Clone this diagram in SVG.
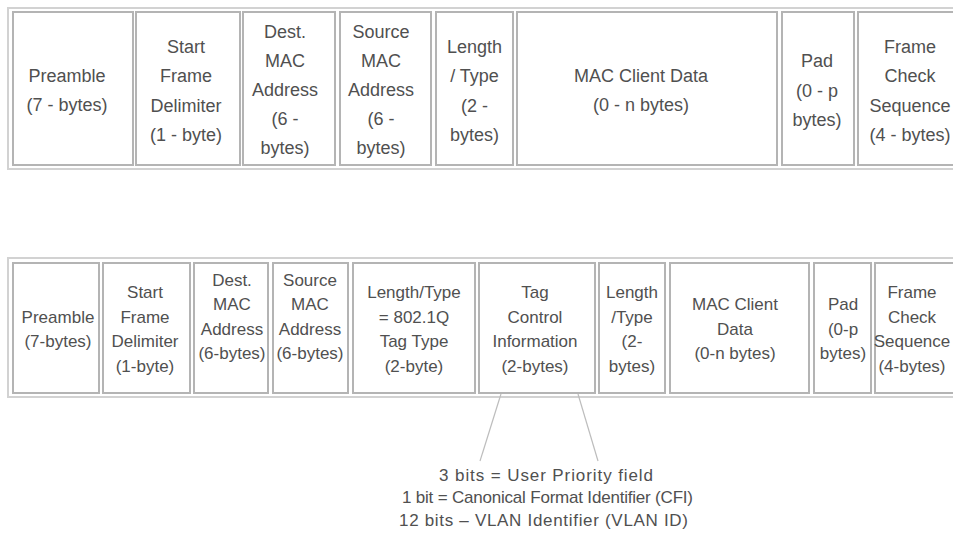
<svg xmlns="http://www.w3.org/2000/svg" width="953" height="543" viewBox="0 0 953 543">
<style>
.frame{fill:#fff;stroke:#d2d2d2;stroke-width:2}
.box{fill:#fff;stroke:#b4b4b4;stroke-width:2}
.t1{font-family:"Liberation Sans",Arial,sans-serif;font-size:18px;fill:#505050;text-anchor:middle}
.t2{font-family:"Liberation Sans",Arial,sans-serif;font-size:17px;fill:#505050;text-anchor:middle}
.conn{stroke:#bdbdbd;stroke-width:1.2;fill:none}
</style>
<rect width="953" height="543" fill="#fff"/>
<g id="frame-untagged">
<rect class="frame" x="8" y="8" width="960" height="161"/>
</g>
<g id="frame-tagged">
<rect class="frame" x="8" y="258" width="960" height="139"/>
</g>
<!-- Row 1 -->
<g id="r1-preamble"><rect class="box" x="13" y="12" width="120" height="153"/>
<text class="t1"><tspan x="67" y="81.5">Preamble</tspan><tspan x="67" y="111">(7 - bytes)</tspan></text></g>
<g id="r1-sfd"><rect class="box" x="136" y="12" width="104" height="153"/>
<text class="t1"><tspan x="186" y="52.5">Start</tspan><tspan x="186" y="82">Frame</tspan><tspan x="186" y="111.5">Delimiter</tspan><tspan x="186" y="141">(1 - byte)</tspan></text></g>
<g id="r1-dest"><rect class="box" x="243" y="12" width="92" height="153"/>
<text class="t1"><tspan x="285" y="38">Dest.</tspan><tspan x="285" y="67">MAC</tspan><tspan x="285" y="96">Address</tspan><tspan x="285" y="125">(6 -</tspan><tspan x="285" y="154">bytes)</tspan></text></g>
<g id="r1-source"><rect class="box" x="340" y="12" width="91" height="153"/>
<text class="t1"><tspan x="381" y="38">Source</tspan><tspan x="381" y="67">MAC</tspan><tspan x="381" y="96">Address</tspan><tspan x="381" y="125">(6 -</tspan><tspan x="381" y="154">bytes)</tspan></text></g>
<g id="r1-lengthtype"><rect class="box" x="436" y="12" width="77" height="153"/>
<text class="t1"><tspan x="474.5" y="52.5">Length</tspan><tspan x="474.5" y="82">/ Type</tspan><tspan x="474.5" y="111.5">(2 -</tspan><tspan x="474.5" y="141">bytes)</tspan></text></g>
<g id="r1-data"><rect class="box" x="517" y="12" width="260" height="153"/>
<text class="t1"><tspan x="641" y="81.5">MAC Client Data</tspan><tspan x="641" y="111">(0 - n bytes)</tspan></text></g>
<g id="r1-pad"><rect class="box" x="782" y="12" width="72" height="153"/>
<text class="t1"><tspan x="817" y="67">Pad</tspan><tspan x="817" y="96.5">(0 - p</tspan><tspan x="817" y="126">bytes)</tspan></text></g>
<g id="r1-fcs"><rect class="box" x="858" y="12" width="110" height="153"/>
<text class="t1"><tspan x="910" y="52.5">Frame</tspan><tspan x="910" y="82">Check</tspan><tspan x="910" y="111.5">Sequence</tspan><tspan x="910" y="141">(4 - bytes)</tspan></text></g>
<!-- Row 2 -->
<g id="r2-preamble"><rect class="box" x="13" y="263" width="86" height="130"/>
<text class="t2"><tspan x="58" y="322.5">Preamble</tspan><tspan x="58" y="347">(7-bytes)</tspan></text></g>
<g id="r2-sfd"><rect class="box" x="103" y="263" width="87" height="130"/>
<text class="t2"><tspan x="145" y="298">Start</tspan><tspan x="145" y="322.5">Frame</tspan><tspan x="145" y="347">Delimiter</tspan><tspan x="145" y="371.5">(1-byte)</tspan></text></g>
<g id="r2-dest"><rect class="box" x="194" y="263" width="74" height="130"/>
<text class="t2"><tspan x="232" y="285.5">Dest.</tspan><tspan x="232" y="310">MAC</tspan><tspan x="232" y="334.5">Address</tspan><tspan x="232" y="359">(6-bytes)</tspan></text></g>
<g id="r2-source"><rect class="box" x="273" y="263" width="75" height="130"/>
<text class="t2"><tspan x="310" y="285.5">Source</tspan><tspan x="310" y="310">MAC</tspan><tspan x="310" y="334.5">Address</tspan><tspan x="310" y="359">(6-bytes)</tspan></text></g>
<g id="r2-tagtype"><rect class="box" x="353" y="263" width="122" height="130"/>
<text class="t2"><tspan x="414" y="298">Length/Type</tspan><tspan x="414" y="322.5">= 802.1Q</tspan><tspan x="414" y="347">Tag Type</tspan><tspan x="414" y="371.5">(2-byte)</tspan></text></g>
<g id="r2-tci"><rect class="box" x="479" y="263" width="116" height="130"/>
<text class="t2"><tspan x="535" y="298">Tag</tspan><tspan x="535" y="322.5">Control</tspan><tspan x="535" y="347">Information</tspan><tspan x="535" y="371.5">(2-bytes)</tspan></text></g>
<g id="r2-lengthtype"><rect class="box" x="599" y="263" width="66" height="130"/>
<text class="t2"><tspan x="632" y="298">Length</tspan><tspan x="632" y="322.5">/Type</tspan><tspan x="632" y="347">(2-</tspan><tspan x="632" y="371.5">bytes)</tspan></text></g>
<g id="r2-data"><rect class="box" x="670" y="263" width="139" height="130"/>
<text class="t2"><tspan x="735" y="310">MAC Client</tspan><tspan x="735" y="334.5">Data</tspan><tspan x="735" y="359">(0-n bytes)</tspan></text></g>
<g id="r2-pad"><rect class="box" x="814" y="263" width="57" height="130"/>
<text class="t2"><tspan x="843" y="310">Pad</tspan><tspan x="843" y="334.5">(0-p</tspan><tspan x="843" y="359">bytes)</tspan></text></g>
<g id="r2-fcs"><rect class="box" x="875" y="263" width="95" height="130"/>
<text class="t2"><tspan x="912" y="298">Frame</tspan><tspan x="912" y="322.5">Check</tspan><tspan x="912" y="347">Sequence</tspan><tspan x="912" y="371.5">(4-bytes)</tspan></text></g>
<g id="connectors">
<line class="conn" x1="501" y1="394" x2="480" y2="461"/>
<line class="conn" x1="578" y1="394" x2="598" y2="461"/>
</g>
<g id="tci-breakdown">
<text class="t2" x="546" y="481" textLength="214" lengthAdjust="spacing">3 bits = User Priority field</text>
<text class="t2" x="547.5" y="503" textLength="291" lengthAdjust="spacing">1 bit = Canonical Format Identifier (CFI)</text>
<text class="t2" x="543.5" y="526" textLength="289" lengthAdjust="spacing">12 bits – VLAN Identifier (VLAN ID)</text>
</g>
</svg>
